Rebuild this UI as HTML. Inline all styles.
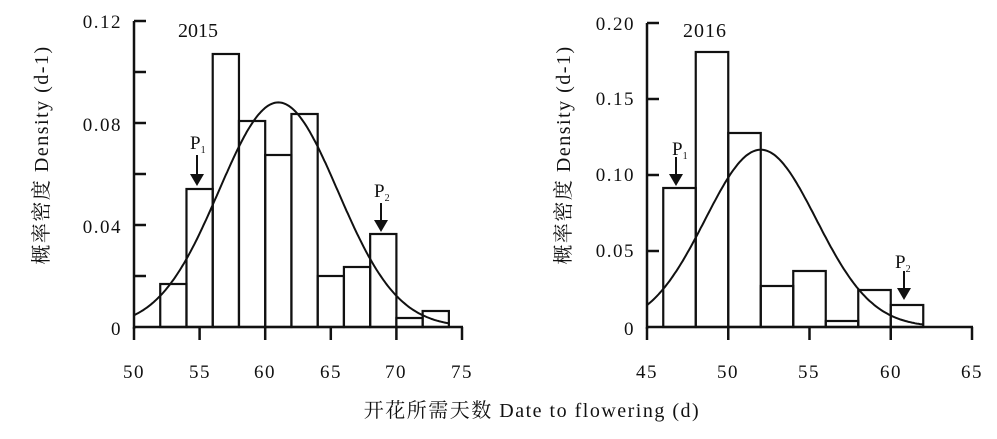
<!DOCTYPE html>
<html><head><meta charset="utf-8"><style>
html,body{margin:0;padding:0;background:#fff;}
svg text{font-family:"Liberation Serif","Noto Serif CJK SC",serif;fill:#111;}
</style></head><body>
<svg id="s" width="997" height="434" viewBox="0 0 997 434" xmlns="http://www.w3.org/2000/svg">
<g stroke="#111" fill="none" stroke-width="2.5" id="g"></g>
<g font-size="19" text-anchor="end" letter-spacing="1.5">
<text x="122" y="28">0.12</text><text x="122" y="131">0.08</text><text x="122" y="233">0.04</text><text x="122" y="335">0</text>
<text x="635" y="30">0.20</text><text x="635" y="105">0.15</text><text x="635" y="181">0.10</text><text x="635" y="257">0.05</text><text x="635" y="335">0</text>
</g>
<g font-size="19" text-anchor="middle" letter-spacing="1.5">
<text x="134" y="378">50</text><text x="200" y="378">55</text><text x="265" y="378">60</text><text x="331" y="378">65</text><text x="396" y="378">70</text><text x="462" y="378">75</text>
<text x="647" y="378">45</text><text x="728" y="378">50</text><text x="809" y="378">55</text><text x="891" y="378">60</text><text x="972" y="378">65</text>
</g>
<text x="178" y="37" font-size="20">2015</text>
<text x="683" y="37" font-size="20" letter-spacing="1">2016</text>
<text x="190" y="149" font-size="19">P<tspan font-size="10" dy="4">1</tspan></text>
<text x="374" y="197" font-size="19">P<tspan font-size="10" dy="4">2</tspan></text>
<text x="672" y="155" font-size="19">P<tspan font-size="10" dy="4">1</tspan></text>
<text x="895" y="268" font-size="19">P<tspan font-size="10" dy="4">2</tspan></text>
<text transform="translate(48,155) rotate(-90)" font-size="20" text-anchor="middle" letter-spacing="1.5">概率密度 Density (d-1)</text>
<text transform="translate(570,155) rotate(-90)" font-size="20" text-anchor="middle" letter-spacing="1.5">概率密度 Density (d-1)</text>
<text x="532" y="417" font-size="20" text-anchor="middle" letter-spacing="1.5">开花所需天数 Date to flowering (d)</text>
</svg>
<script>
var g=document.getElementById('g'),NS='http://www.w3.org/2000/svg';
function el(t,a){var e=document.createElementNS(NS,t);for(var k in a)e.setAttribute(k,a[k]);g.appendChild(e);return e;}
function chart(ax,x0,ux,base,top,yt,xt,bars,mu,sig,yscale,arrows){
  var X=function(v){return ax+(v-x0)*ux;};
  bars.forEach(function(b){el('rect',{x:X(b[0]),y:b[1],width:2*ux,height:base-b[1],'stroke-width':2.2});});
  el('line',{x1:ax,y1:top,x2:ax,y2:base+2});
  el('line',{x1:ax-1,y1:base,x2:X(xt[xt.length-1])+1,y2:base});
  yt.forEach(function(y){el('line',{x1:ax,y1:y,x2:ax+12,y2:y});});
  xt.forEach(function(v){el('line',{x1:X(v),y1:base,x2:X(v),y2:base+13});});
  var d='';var pk=1/(sig*Math.sqrt(2*Math.PI));
  for(var v=x0;v<=bars[bars.length-1][0]+2.05;v+=0.1){var p=pk*Math.exp(-(v-mu)*(v-mu)/(2*sig*sig));d+=(d?'L':'M')+X(v).toFixed(1)+','+(base-p*yscale).toFixed(1);}
  el('path',{d:d,'stroke-width':2});
  arrows.forEach(function(a){el('line',{x1:a[0],y1:a[1],x2:a[0],y2:a[2]-8,'stroke-width':2});
    el('path',{d:'M'+(a[0]-7)+','+(a[2]-12)+'L'+(a[0]+7)+','+(a[2]-12)+'L'+a[0]+','+a[2]+'Z',fill:'#111',stroke:'none'});});
}
chart(134,50,13.12,327,21,[21,72,123,174,225,276],[50,55,60,65,70,75],
 [[52,284],[54,189],[56,54],[58,121],[60,155],[62,114],[64,276],[66,267],[68,234],[70,318],[72,311]],
 61,4.53,2550,[[197,155,186],[381,203,232]]);
chart(647,45,16.25,327,23,[23,99,175,251],[45,50,55,60,65],
 [[46,188],[48,52],[50,133],[52,286],[54,271],[56,321],[58,290],[60,305]],
 52,3.42,1520,[[676,157,186],[904,271,300]]);
</script>
</body></html>
